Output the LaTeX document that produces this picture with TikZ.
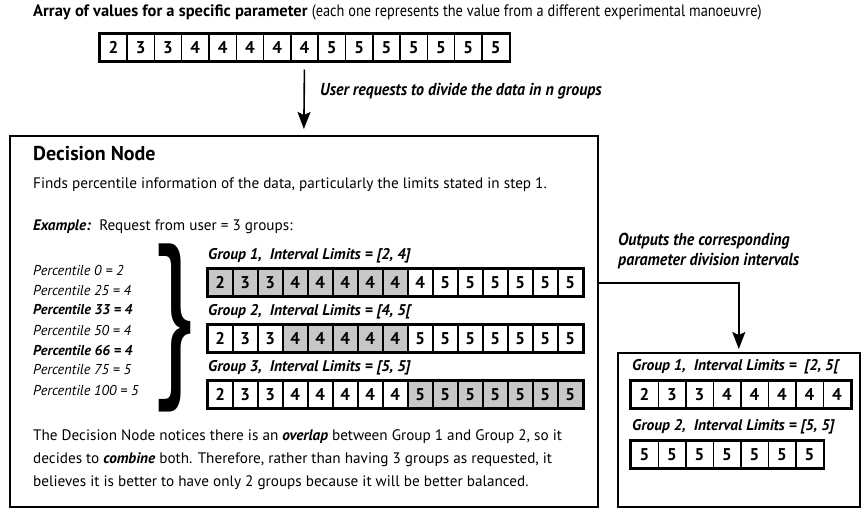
\documentclass[tikz,border=0pt]{standalone}
\usepackage{fontspec}
\setmainfont{PT Sans}
\newfontfamily\narrowfont{PT Sans}[FakeStretch=0.92]
\newfontfamily\tightfont{PT Sans}[FakeStretch=0.87]
\usetikzlibrary{arrows.meta,calc,positioning}
\definecolor{cellgray}{gray}{0.78}

% width and height of one value cell, set before each row
\def\cw{25}
\def\ch{27}
\tikzset{
  cell/.style={draw, line width=1.5pt, minimum width=\cw pt, minimum height=\ch pt, inner sep=0pt,
    anchor=north west, font=\fontsize{17}{17}\selectfont\bfseries},
  rowframe/.style={draw, line width=2.6pt},
  panel/.style={draw, line width=1.6pt, inner sep=0pt, anchor=north west},
  arr/.style={-{Stealth[length=17pt, width=13pt, inset=3pt]}, line width=1.6pt},
  txt/.style={anchor=west, inner sep=0pt, font=\fontsize{15.2}{15.2}\selectfont},
  grplabel/.style={anchor=west, inner sep=0pt, font=\fontsize{15.5}{15.5}\selectfont\bfseries\itshape},
  pctlabel/.style={anchor=west, inner sep=0pt, font=\fontsize{14.3}{14.3}\selectfont\itshape},
  cond/.style={anchor=west, inner sep=0pt, font=\fontsize{16.5}{16.5}\selectfont\narrowfont},
  condlabel/.style={cond, font=\fontsize{17.3}{17.3}\selectfont\narrowfont\bfseries\itshape}
}

% row of value cells: name, x, y, values, first and last shaded cell, count
\newcommand{\valrow}[7]{%
  \foreach \v [count=\i] in {#4} {
    \pgfmathtruncatemacro\shade{and(\i>=#5,\i<=#6)*100}
    \node[cell, fill=cellgray!\shade!white] (#1-\i) at ({#2+(\i-1)*\cw},#3) {\v};
  }
  \draw[rowframe] (#1-1.north west) rectangle (#1-#7.south east);
}

\begin{document}
\begin{tikzpicture}[x=1pt, y=-1pt]
  \useasboundingbox (0,0) rectangle (861,509);

  % input array
  \node[cond] (title) at (33,12) {\fontsize{16.5}{16.5}\selectfont\rmfamily\bfseries Array of values for a specific parameter
    \tightfont\mdseries(each one represents the value from a different experimental manoeuvre)};
  \def\cw{27.3}
  \valrow{top}{99}{33}{2,3,3,4,4,4,4,4,5,5,5,5,5,5,5}{0}{-1}{15}

  % decision node
  \node[panel, minimum width=588pt, minimum height=371pt] (decision) at (9,135) {};
  \draw[arr, shorten <=8pt, shorten >=6pt] (top-8.south) -- (decision.north);
  \node[condlabel] (request) at (320,91) {User requests to divide the data in n groups};

  \node[txt, font=\fontsize{20}{20}\selectfont\bfseries] (dntitle) at (33,154) {Decision Node};
  \node[txt] (finds) at (33,185) {Finds percentile information of the data, particularly the limits stated in step 1.};
  \node[txt] (example) at (33,227) {\textbf{\itshape Example:}\ \ Request from user = 3 groups:};

  \foreach \p/\val/\w [count=\k from 0] in {0/2/, 25/4/, 33/4/\bfseries, 50/4/, 66/4/\bfseries, 75/5/, 100/5/}
    \node[pctlabel, font=\fontsize{14.3}{14.3}\selectfont\itshape\w] (pct-\k) at (33,{270+20*\k}) {Percentile \p\ = \val};

  \node[inner sep=0pt] (brace) at (174,328) {\resizebox*{42pt}{168pt}{\}}};

  \def\cw{25}
  \node[grplabel] (g1-label) at (208,256) {Group 1,\ \ Interval Limits = [2, 4]};
  \valrow{g1}{207}{268}{2,3,3,4,4,4,4,4,4,5,5,5,5,5,5}{1}{8}{15}
  \node[grplabel] (g2-label) at (208,312) {Group 2,\ \ Interval Limits = [4, 5[};
  \valrow{g2}{207}{324}{2,3,3,4,4,4,4,4,5,5,5,5,5,5,5}{4}{8}{15}
  \node[grplabel] (g3-label) at (208,368) {Group 3,\ \ Interval Limits = [5, 5]};
  \valrow{g3}{207}{380}{2,3,3,4,4,4,4,4,5,5,5,5,5,5,5}{9}{15}{15}

  \node[txt] (note1) at (33,437) {The Decision Node notices there is an \textbf{\itshape overlap} between Group 1 and Group 2, so it};
  \node[txt] (note2) at (33,460) {decides to \textbf{\itshape combine} both. Therefore, rather than having 3 groups as requested, it};
  \node[txt] (note3) at (33,483) {believes it is better to have only 2 groups because it will be better balanced.};

  % output intervals
  \node[panel, minimum width=242pt, minimum height=154pt] (outbox) at (617,352) {};
  \draw[arr, shorten >=3pt] (decision.east |- 0,283) -| (outbox.north);
  \node[condlabel] (outputs1) at (618,241) {Outputs the corresponding};
  \node[condlabel] (outputs2) at (618,261) {parameter division intervals};

  \def\cw{27.5}
  \node[grplabel] (o1-label) at (632,367) {Group 1,\ \ Interval Limits =\ \ [2, 5[};
  \valrow{o1}{630}{380}{2,3,3,4,4,4,4,4}{0}{-1}{8}
  \node[grplabel] (o2-label) at (632,427) {Group 2,\ \ Interval Limits = [5, 5]};
  \valrow{o2}{630}{440}{5,5,5,5,5,5,5}{0}{-1}{7}
\end{tikzpicture}
\end{document}
